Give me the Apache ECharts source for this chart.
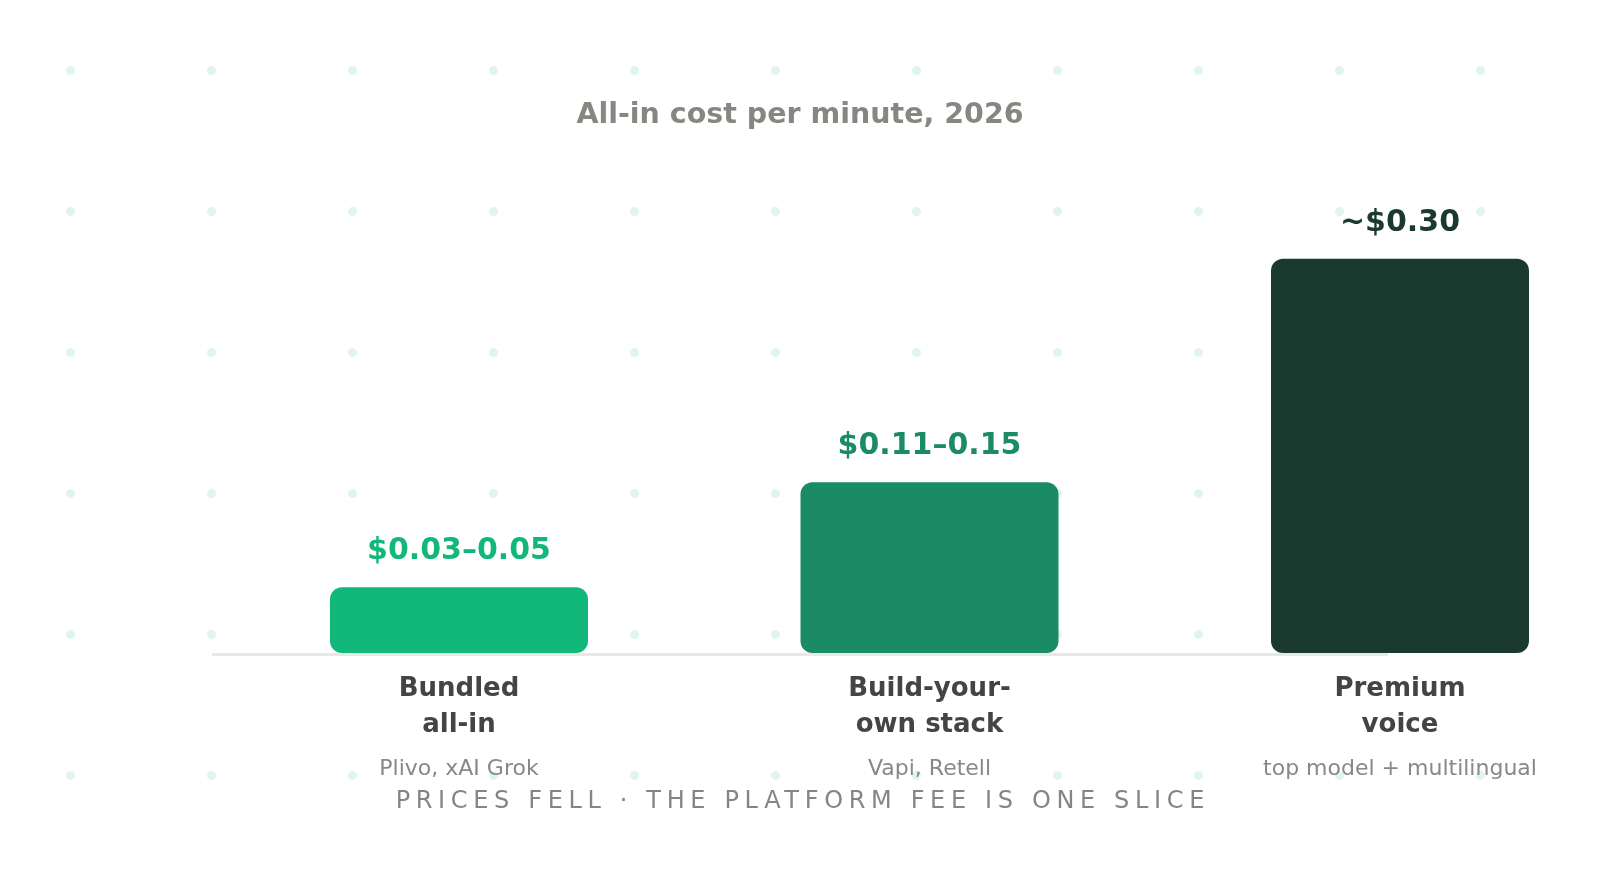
<!DOCTYPE html>
<html>
<head>
<meta charset="utf-8">
<script src="https://cdn.jsdelivr.net/npm/echarts@6/dist/echarts.min.js"></script>
<style>
  html, body {
    margin: 0;
    padding: 0;
    background: #fff;
  }
  .page {
    position: relative;
    width: 1600px;
    height: 894px;
    /* mint dot grid behind everything */
    background-image: radial-gradient(circle at center, #dff5ee 0, #dff5ee 4px, rgba(223, 245, 238, 0) 5px);
    background-size: 141px 141px;
    background-position: 0 0;
  }
  .my-chart {
    position: absolute;
    left: 0;
    top: 0;
    width: 1600px;
    height: 894px;
  }
  .footer {
    position: absolute;
    left: 0;
    width: 1600px;
    top: 788px;
    text-align: center;
    font-family: 'DejaVu Sans', sans-serif;
    font-size: 24px;
    line-height: 24px;
    letter-spacing: 5.65px;
    padding-left: 5.65px;
    box-sizing: border-box;
    color: #868681;
  }
</style>
</head>
<body>
<div class="page">
  <div class="my-chart" id="my-chart"></div>
  <div class="footer">PRICES FELL · THE PLATFORM FEE IS ONE SLICE</div>
</div>
<script>
const categories = ['Bundled\nall-in', 'Build-your-\nown stack', 'Premium\nvoice']
const examples = ['Plivo, xAI Grok', 'Vapi, Retell', 'top model + multilingual']
const costs = [0.05, 0.13, 0.30]
const costLabels = ['$0.03–0.05', '$0.11–0.15', '~$0.30']

const barColors = ['#12b87a', '#1b8b65', '#1b3a2f']
const font = "'DejaVu Sans', sans-serif"

const chart = echarts.init(document.getElementById('my-chart'))

const option = {
  animation: false,
  title: {
    text: 'All-in cost per minute, 2026',
    left: 'center',
    top: 96,
    textStyle: {
      fontFamily: font,
      fontSize: 28.5,
      fontWeight: 'bold',
      color: '#878782'
    }
  },
  // categories sit on the ticks, so the grid runs from first to last bar centre
  grid: {
    left: 459,
    right: 200,
    top: 193,
    bottom: 241,
    containLabel: false
  },
  graphic: [
    {
      // baseline rule under the bars
      type: 'line',
      z: 0,
      shape: { x1: 212, y1: 654.5, x2: 1388, y2: 654.5 },
      style: { stroke: '#e8e8e8', lineWidth: 3 }
    }
  ],
  xAxis: {
    type: 'category',
    data: categories,
    boundaryGap: false,
    axisLine: { show: false },
    axisTick: { show: false },
    axisLabel: {
      margin: 18,
      interval: 0,
      formatter: (value, idx) => {
        const lines = value.split('\n').map((l) => `{name|${l}}`)
        return lines.join('\n') + `\n{sub|${examples[idx]}}`
      },
      rich: {
        name: {
          fontFamily: font,
          fontSize: 26,
          fontWeight: 'bold',
          lineHeight: 36,
          color: '#444444'
        },
        sub: {
          fontFamily: font,
          fontSize: 22,
          lineHeight: 53,
          color: '#888888'
        }
      }
    }
  },
  yAxis: {
    type: 'value',
    min: 0,
    max: 0.35,
    show: false,
    splitLine: { show: false }
  },
  series: [
    {
      type: 'bar',
      barWidth: 258,
      clip: false,
      data: costs.map((v, i) => ({
        value: v,
        itemStyle: { color: barColors[i], borderRadius: 12 },
        label: { color: barColors[i] }
      })),
      label: {
        show: true,
        position: 'top',
        distance: 21,
        fontFamily: font,
        fontSize: 30,
        fontWeight: 'bold',
        formatter: ({ dataIndex }) => costLabels[dataIndex]
      }
    }
  ]
}

chart.setOption(option)
</script>
</body>
</html>
